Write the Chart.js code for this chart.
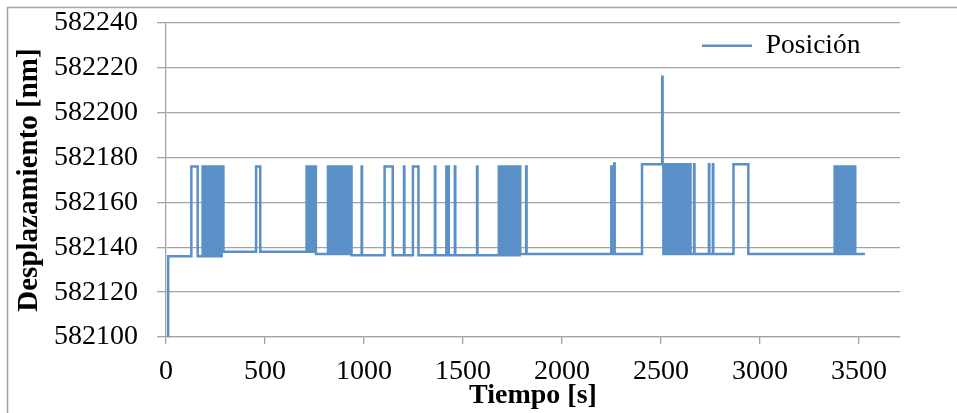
<!DOCTYPE html>
<html>
<head>
<meta charset="utf-8">
<script src="https://cdn.jsdelivr.net/npm/chart.js@4/dist/chart.umd.min.js"></script>
<style>
  html, body { margin: 0; padding: 0; background: #fff; }
  #wrap { position: relative; width: 957px; height: 413px; }
</style>
</head>
<body>
<div id="wrap"><canvas id="grafico" width="957" height="413"></canvas></div>
<script>
// Posición medida frente al tiempo, como lista de cambios de nivel (tiempo en s, posición en nm).
const tiempo1 = [10, 11, 128, 160,
  185, 193, 201, 209, 217, 225, 233, 241, 249, 257, 265, 273, 281, 290,
  455, 476,
  710, 717, 724, 731, 738, 745, 751, 757,
  818, 826, 834, 842, 850, 858, 866, 874, 882, 890, 898, 906, 914, 922, 930, 937,
  988, 990];
const posicion1 = [582100, 582136, 582176, 582136,
  582176, 582136, 582176, 582136, 582176, 582136, 582176, 582136, 582176, 582136, 582176, 582136, 582176, 582138,
  582176, 582138,
  582176, 582138, 582176, 582138, 582176, 582138, 582176, 582137,
  582176, 582137, 582176, 582137, 582176, 582137, 582176, 582137, 582176, 582137, 582176, 582137, 582176, 582137, 582176, 582136.5,
  582176, 582136.5];

const tiempo2 = [1104, 1145, 1202, 1204, 1247, 1275, 1358, 1360, 1416, 1428, 1459, 1461, 1571, 1573,
  1681, 1689, 1697, 1705, 1713, 1721, 1729, 1737, 1745, 1753, 1761, 1769, 1777, 1783, 1786, 1789,
  1819, 1821];
const posicion2 = [582176, 582136.5, 582176, 582136.5, 582176, 582136.5, 582176, 582136.5, 582176, 582136.5, 582176, 582136.5, 582176, 582136.5,
  582176, 582136.5, 582176, 582136.5, 582176, 582136.5, 582176, 582136.5, 582176, 582136.5, 582176, 582136.5, 582176, 582136.5, 582176, 582137,
  582176, 582137];

const tiempo3 = [2249, 2251, 2264, 2266, 2404, 2506, 2508,
  2512, 2519, 2526, 2533, 2540, 2547, 2554, 2561, 2568, 2575, 2582, 2589, 2596, 2603, 2610, 2617, 2624, 2630, 2634, 2640, 2642, 2647, 2649,
  2667, 2669, 2742, 2744, 2762, 2764, 2866, 2941];
const posicion3 = [582176, 582137, 582177.4, 582137, 582177, 582216, 582177,
  582137, 582177, 582137, 582177, 582137, 582177, 582137, 582177, 582137, 582177, 582137, 582177, 582137, 582177, 582137, 582177, 582137, 582177, 582137, 582177, 582137, 582177, 582137,
  582177, 582137, 582177, 582137, 582177, 582137, 582177, 582137];

const tiempo4 = [3377, 3385, 3393, 3401, 3409, 3417, 3425, 3433, 3441, 3449, 3457, 3465, 3473, 3481, 3530];
const posicion4 = [582176, 582137, 582176, 582137, 582176, 582137, 582176, 582137, 582176, 582137, 582176, 582137, 582176, 582137, 582137];

const ticksX = [0, 500, 1000, 1500, 2000, 2500, 3000, 3500];
const ticksY = [582100, 582120, 582140, 582160, 582180, 582200, 582220, 582240];

const tiempos = [tiempo1, tiempo2, tiempo3, tiempo4];
const posiciones = [posicion1, posicion2, posicion3, posicion4];
const puntos = [];
tiempos.forEach((ts, k) => ts.forEach((t, i) => puntos.push({ x: t, y: posiciones[k][i] })));

const GRIS = '#a3a3a3';
const AZUL = '#5b8fc8';
const FUENTE = "'Liberation Serif', 'Times New Roman', serif";

Chart.defaults.font.family = FUENTE;
Chart.defaults.color = '#000';

// Fondo blanco y marco exterior del gráfico
const marco = {
  id: 'marco',
  beforeDraw(chart) {
    const ctx = chart.ctx;
    ctx.save();
    ctx.fillStyle = '#fff';
    ctx.fillRect(0, 0, chart.width, chart.height);
    ctx.strokeStyle = GRIS;
    ctx.lineWidth = 1.5;
    ctx.strokeRect(7.5, 7.5, chart.width + 20, chart.height + 20);
    ctx.restore();
  }
};

// La leyenda va dentro del área de trazado, arriba a la derecha
const leyendaDerecha = {
  id: 'leyendaDerecha',
  afterLayout(chart) {
    const lg = chart.legend;
    if (!lg) return;
    const w = lg.width, h = lg.height;
    lg.left = 692;
    lg.right = lg.left + w;
    lg.top = chart.chartArea.top - 1;
    lg.bottom = lg.top + h;
  }
};

new Chart(document.getElementById('grafico'), {
  type: 'line',
  data: {
    datasets: [{
      label: 'Posición',
      data: puntos,
      borderColor: AZUL,
      backgroundColor: AZUL,
      borderWidth: 2.5,
      pointRadius: 0,
      stepped: true,
      fill: false
    }]
  },
  options: {
    responsive: false,
    animation: false,
    parsing: false,
    layout: { padding: { top: 23, right: 57, left: 0, bottom: 0 } },
    plugins: {
      tooltip: { enabled: false },
      legend: {
        position: 'chartArea',
        align: 'start',
        labels: {
          usePointStyle: true,
          pointStyle: 'line',
          pointStyleWidth: 50,
          padding: 10,
          color: '#000',
          font: { family: FUENTE, size: 27.5 }
        }
      }
    },
    scales: {
      x: {
        type: 'linear',
        min: 0,
        max: 3707,
        afterBuildTicks(scale) { scale.ticks = ticksX.map(v => ({ value: v })); },
        afterFit(scale) { scale.height = 76; },
        ticks: {
          padding: 11,
          maxRotation: 0,
          autoSkip: false,
          font: { size: 28 },
          color: '#000',
          callback: v => String(v)
        },
        grid: { drawOnChartArea: false, drawTicks: true, tickLength: 7, color: GRIS, lineWidth: 1.3 },
        border: { display: true, color: GRIS, width: 1.3 },
        title: {
          display: true,
          text: 'Tiempo [s]',
          color: '#000',
          font: { size: 28, weight: 'bold' },
          padding: { top: 0, bottom: 0 }
        }
      },
      y: {
        min: 582100,
        max: 582240,
        afterBuildTicks(scale) { scale.ticks = ticksY.map(v => ({ value: v })); },
        afterFit(scale) {
          scale.width = 166;
          scale.paddingTop = 0;
          scale.paddingBottom = 0;
        },
        ticks: {
          padding: 19,
          font: { size: 28 },
          color: '#000',
          callback: v => String(v)
        },
        grid: { color: GRIS, lineWidth: 1.3, tickLength: 9, drawTicks: true },
        border: { display: true, color: GRIS, width: 1.3 },
        title: {
          display: true,
          text: 'Desplazamiento [nm]',
          color: '#000',
          font: { size: 29, weight: 'bold' },
          padding: { top: 12, bottom: 0 }
        }
      }
    }
  },
  plugins: [marco, leyendaDerecha]
});
</script>
</body>
</html>
